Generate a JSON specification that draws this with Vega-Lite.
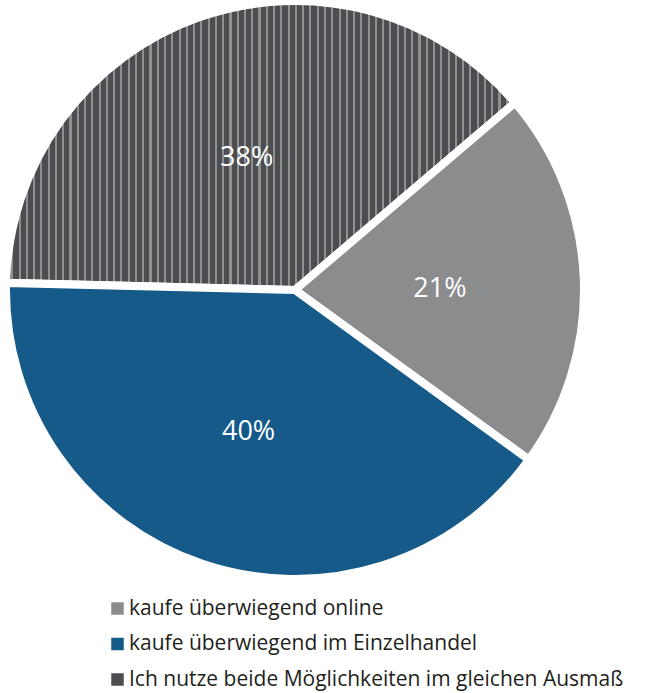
{
  "$schema": "https://vega.github.io/schema/vega-lite/v6.json",
  "width": 590,
  "height": 580,
  "autosize": {"type": "none"},
  "padding": {"left": 0, "top": 0, "right": 56, "bottom": 113},
  "background": "white",
  "config": {"view": {"stroke": null}},
  "data": {
    "values": [
      {"cat": "Ich nutze beide Möglichkeiten im gleichen Ausmaß", "value": 38, "ord": 1, "label": "38%"},
      {"cat": "kaufe überwiegend online", "value": 21, "ord": 2, "label": "21%"},
      {"cat": "kaufe überwiegend im Einzelhandel", "value": 40, "ord": 3, "label": "40%"}
    ]
  },
  "encoding": {
    "theta": {"field": "value", "type": "quantitative", "stack": true, "scale": {"range": [-1.546, 4.737]}},
    "order": {"field": "ord", "type": "quantitative"}
  },
  "layer": [
    {
      "mark": {"type": "arc", "outerRadius": 289, "stroke": "white", "strokeWidth": 8},
      "encoding": {
        "color": {
          "field": "cat",
          "type": "nominal",
          "scale": {
            "domain": ["kaufe überwiegend online", "kaufe überwiegend im Einzelhandel", "Ich nutze beide Möglichkeiten im gleichen Ausmaß"],
            "range": ["#8b8c8e", "#165a8a", "#4c4d51"]
          },
          "condition": {
            "test": "datum.cat === 'Ich nutze beide Möglichkeiten im gleichen Ausmaß'",
            "value": {
              "gradient": "linear", "x1": 0, "y1": 0, "x2": 1, "y2": 0,
              "stops": [
{"offset":0,"color":"#4c4d51"},{"offset":0.0102,"color":"#4c4d51"},{"offset":0.0102,"color":"#8e8f91"},{"offset":0.0143,"color":"#8e8f91"},
{"offset":0.0143,"color":"#4c4d51"},{"offset":0.0245,"color":"#4c4d51"},{"offset":0.0245,"color":"#8e8f91"},{"offset":0.0286,"color":"#8e8f91"},
{"offset":0.0286,"color":"#4c4d51"},{"offset":0.0388,"color":"#4c4d51"},{"offset":0.0388,"color":"#8e8f91"},{"offset":0.0429,"color":"#8e8f91"},
{"offset":0.0429,"color":"#4c4d51"},{"offset":0.0531,"color":"#4c4d51"},{"offset":0.0531,"color":"#8e8f91"},{"offset":0.0571,"color":"#8e8f91"},
{"offset":0.0571,"color":"#4c4d51"},{"offset":0.0673,"color":"#4c4d51"},{"offset":0.0673,"color":"#8e8f91"},{"offset":0.0714,"color":"#8e8f91"},
{"offset":0.0714,"color":"#4c4d51"},{"offset":0.0816,"color":"#4c4d51"},{"offset":0.0816,"color":"#8e8f91"},{"offset":0.0857,"color":"#8e8f91"},
{"offset":0.0857,"color":"#4c4d51"},{"offset":0.0959,"color":"#4c4d51"},{"offset":0.0959,"color":"#8e8f91"},{"offset":0.1,"color":"#8e8f91"},
{"offset":0.1,"color":"#4c4d51"},{"offset":0.1102,"color":"#4c4d51"},{"offset":0.1102,"color":"#8e8f91"},{"offset":0.1143,"color":"#8e8f91"},
{"offset":0.1143,"color":"#4c4d51"},{"offset":0.1245,"color":"#4c4d51"},{"offset":0.1245,"color":"#8e8f91"},{"offset":0.1286,"color":"#8e8f91"},
{"offset":0.1286,"color":"#4c4d51"},{"offset":0.1388,"color":"#4c4d51"},{"offset":0.1388,"color":"#8e8f91"},{"offset":0.1429,"color":"#8e8f91"},
{"offset":0.1429,"color":"#4c4d51"},{"offset":0.1531,"color":"#4c4d51"},{"offset":0.1531,"color":"#8e8f91"},{"offset":0.1571,"color":"#8e8f91"},
{"offset":0.1571,"color":"#4c4d51"},{"offset":0.1673,"color":"#4c4d51"},{"offset":0.1673,"color":"#8e8f91"},{"offset":0.1714,"color":"#8e8f91"},
{"offset":0.1714,"color":"#4c4d51"},{"offset":0.1816,"color":"#4c4d51"},{"offset":0.1816,"color":"#8e8f91"},{"offset":0.1857,"color":"#8e8f91"},
{"offset":0.1857,"color":"#4c4d51"},{"offset":0.1959,"color":"#4c4d51"},{"offset":0.1959,"color":"#8e8f91"},{"offset":0.2,"color":"#8e8f91"},
{"offset":0.2,"color":"#4c4d51"},{"offset":0.2102,"color":"#4c4d51"},{"offset":0.2102,"color":"#8e8f91"},{"offset":0.2143,"color":"#8e8f91"},
{"offset":0.2143,"color":"#4c4d51"},{"offset":0.2245,"color":"#4c4d51"},{"offset":0.2245,"color":"#8e8f91"},{"offset":0.2286,"color":"#8e8f91"},
{"offset":0.2286,"color":"#4c4d51"},{"offset":0.2388,"color":"#4c4d51"},{"offset":0.2388,"color":"#8e8f91"},{"offset":0.2429,"color":"#8e8f91"},
{"offset":0.2429,"color":"#4c4d51"},{"offset":0.2531,"color":"#4c4d51"},{"offset":0.2531,"color":"#8e8f91"},{"offset":0.2571,"color":"#8e8f91"},
{"offset":0.2571,"color":"#4c4d51"},{"offset":0.2673,"color":"#4c4d51"},{"offset":0.2673,"color":"#8e8f91"},{"offset":0.2714,"color":"#8e8f91"},
{"offset":0.2714,"color":"#4c4d51"},{"offset":0.2816,"color":"#4c4d51"},{"offset":0.2816,"color":"#8e8f91"},{"offset":0.2857,"color":"#8e8f91"},
{"offset":0.2857,"color":"#4c4d51"},{"offset":0.2959,"color":"#4c4d51"},{"offset":0.2959,"color":"#8e8f91"},{"offset":0.3,"color":"#8e8f91"},
{"offset":0.3,"color":"#4c4d51"},{"offset":0.3102,"color":"#4c4d51"},{"offset":0.3102,"color":"#8e8f91"},{"offset":0.3143,"color":"#8e8f91"},
{"offset":0.3143,"color":"#4c4d51"},{"offset":0.3245,"color":"#4c4d51"},{"offset":0.3245,"color":"#8e8f91"},{"offset":0.3286,"color":"#8e8f91"},
{"offset":0.3286,"color":"#4c4d51"},{"offset":0.3388,"color":"#4c4d51"},{"offset":0.3388,"color":"#8e8f91"},{"offset":0.3429,"color":"#8e8f91"},
{"offset":0.3429,"color":"#4c4d51"},{"offset":0.3531,"color":"#4c4d51"},{"offset":0.3531,"color":"#8e8f91"},{"offset":0.3571,"color":"#8e8f91"},
{"offset":0.3571,"color":"#4c4d51"},{"offset":0.3673,"color":"#4c4d51"},{"offset":0.3673,"color":"#8e8f91"},{"offset":0.3714,"color":"#8e8f91"},
{"offset":0.3714,"color":"#4c4d51"},{"offset":0.3816,"color":"#4c4d51"},{"offset":0.3816,"color":"#8e8f91"},{"offset":0.3857,"color":"#8e8f91"},
{"offset":0.3857,"color":"#4c4d51"},{"offset":0.3959,"color":"#4c4d51"},{"offset":0.3959,"color":"#8e8f91"},{"offset":0.4,"color":"#8e8f91"},
{"offset":0.4,"color":"#4c4d51"},{"offset":0.4102,"color":"#4c4d51"},{"offset":0.4102,"color":"#8e8f91"},{"offset":0.4143,"color":"#8e8f91"},
{"offset":0.4143,"color":"#4c4d51"},{"offset":0.4245,"color":"#4c4d51"},{"offset":0.4245,"color":"#8e8f91"},{"offset":0.4286,"color":"#8e8f91"},
{"offset":0.4286,"color":"#4c4d51"},{"offset":0.4388,"color":"#4c4d51"},{"offset":0.4388,"color":"#8e8f91"},{"offset":0.4429,"color":"#8e8f91"},
{"offset":0.4429,"color":"#4c4d51"},{"offset":0.4531,"color":"#4c4d51"},{"offset":0.4531,"color":"#8e8f91"},{"offset":0.4571,"color":"#8e8f91"},
{"offset":0.4571,"color":"#4c4d51"},{"offset":0.4673,"color":"#4c4d51"},{"offset":0.4673,"color":"#8e8f91"},{"offset":0.4714,"color":"#8e8f91"},
{"offset":0.4714,"color":"#4c4d51"},{"offset":0.4816,"color":"#4c4d51"},{"offset":0.4816,"color":"#8e8f91"},{"offset":0.4857,"color":"#8e8f91"},
{"offset":0.4857,"color":"#4c4d51"},{"offset":0.4959,"color":"#4c4d51"},{"offset":0.4959,"color":"#8e8f91"},{"offset":0.5,"color":"#8e8f91"},
{"offset":0.5,"color":"#4c4d51"},{"offset":0.5102,"color":"#4c4d51"},{"offset":0.5102,"color":"#8e8f91"},{"offset":0.5143,"color":"#8e8f91"},
{"offset":0.5143,"color":"#4c4d51"},{"offset":0.5245,"color":"#4c4d51"},{"offset":0.5245,"color":"#8e8f91"},{"offset":0.5286,"color":"#8e8f91"},
{"offset":0.5286,"color":"#4c4d51"},{"offset":0.5388,"color":"#4c4d51"},{"offset":0.5388,"color":"#8e8f91"},{"offset":0.5429,"color":"#8e8f91"},
{"offset":0.5429,"color":"#4c4d51"},{"offset":0.5531,"color":"#4c4d51"},{"offset":0.5531,"color":"#8e8f91"},{"offset":0.5571,"color":"#8e8f91"},
{"offset":0.5571,"color":"#4c4d51"},{"offset":0.5673,"color":"#4c4d51"},{"offset":0.5673,"color":"#8e8f91"},{"offset":0.5714,"color":"#8e8f91"},
{"offset":0.5714,"color":"#4c4d51"},{"offset":0.5816,"color":"#4c4d51"},{"offset":0.5816,"color":"#8e8f91"},{"offset":0.5857,"color":"#8e8f91"},
{"offset":0.5857,"color":"#4c4d51"},{"offset":0.5959,"color":"#4c4d51"},{"offset":0.5959,"color":"#8e8f91"},{"offset":0.6,"color":"#8e8f91"},
{"offset":0.6,"color":"#4c4d51"},{"offset":0.6102,"color":"#4c4d51"},{"offset":0.6102,"color":"#8e8f91"},{"offset":0.6143,"color":"#8e8f91"},
{"offset":0.6143,"color":"#4c4d51"},{"offset":0.6245,"color":"#4c4d51"},{"offset":0.6245,"color":"#8e8f91"},{"offset":0.6286,"color":"#8e8f91"},
{"offset":0.6286,"color":"#4c4d51"},{"offset":0.6388,"color":"#4c4d51"},{"offset":0.6388,"color":"#8e8f91"},{"offset":0.6429,"color":"#8e8f91"},
{"offset":0.6429,"color":"#4c4d51"},{"offset":0.6531,"color":"#4c4d51"},{"offset":0.6531,"color":"#8e8f91"},{"offset":0.6571,"color":"#8e8f91"},
{"offset":0.6571,"color":"#4c4d51"},{"offset":0.6673,"color":"#4c4d51"},{"offset":0.6673,"color":"#8e8f91"},{"offset":0.6714,"color":"#8e8f91"},
{"offset":0.6714,"color":"#4c4d51"},{"offset":0.6816,"color":"#4c4d51"},{"offset":0.6816,"color":"#8e8f91"},{"offset":0.6857,"color":"#8e8f91"},
{"offset":0.6857,"color":"#4c4d51"},{"offset":0.6959,"color":"#4c4d51"},{"offset":0.6959,"color":"#8e8f91"},{"offset":0.7,"color":"#8e8f91"},
{"offset":0.7,"color":"#4c4d51"},{"offset":0.7102,"color":"#4c4d51"},{"offset":0.7102,"color":"#8e8f91"},{"offset":0.7143,"color":"#8e8f91"},
{"offset":0.7143,"color":"#4c4d51"},{"offset":0.7245,"color":"#4c4d51"},{"offset":0.7245,"color":"#8e8f91"},{"offset":0.7286,"color":"#8e8f91"},
{"offset":0.7286,"color":"#4c4d51"},{"offset":0.7388,"color":"#4c4d51"},{"offset":0.7388,"color":"#8e8f91"},{"offset":0.7429,"color":"#8e8f91"},
{"offset":0.7429,"color":"#4c4d51"},{"offset":0.7531,"color":"#4c4d51"},{"offset":0.7531,"color":"#8e8f91"},{"offset":0.7571,"color":"#8e8f91"},
{"offset":0.7571,"color":"#4c4d51"},{"offset":0.7673,"color":"#4c4d51"},{"offset":0.7673,"color":"#8e8f91"},{"offset":0.7714,"color":"#8e8f91"},
{"offset":0.7714,"color":"#4c4d51"},{"offset":0.7816,"color":"#4c4d51"},{"offset":0.7816,"color":"#8e8f91"},{"offset":0.7857,"color":"#8e8f91"},
{"offset":0.7857,"color":"#4c4d51"},{"offset":0.7959,"color":"#4c4d51"},{"offset":0.7959,"color":"#8e8f91"},{"offset":0.8,"color":"#8e8f91"},
{"offset":0.8,"color":"#4c4d51"},{"offset":0.8102,"color":"#4c4d51"},{"offset":0.8102,"color":"#8e8f91"},{"offset":0.8143,"color":"#8e8f91"},
{"offset":0.8143,"color":"#4c4d51"},{"offset":0.8245,"color":"#4c4d51"},{"offset":0.8245,"color":"#8e8f91"},{"offset":0.8286,"color":"#8e8f91"},
{"offset":0.8286,"color":"#4c4d51"},{"offset":0.8388,"color":"#4c4d51"},{"offset":0.8388,"color":"#8e8f91"},{"offset":0.8429,"color":"#8e8f91"},
{"offset":0.8429,"color":"#4c4d51"},{"offset":0.8531,"color":"#4c4d51"},{"offset":0.8531,"color":"#8e8f91"},{"offset":0.8571,"color":"#8e8f91"},
{"offset":0.8571,"color":"#4c4d51"},{"offset":0.8673,"color":"#4c4d51"},{"offset":0.8673,"color":"#8e8f91"},{"offset":0.8714,"color":"#8e8f91"},
{"offset":0.8714,"color":"#4c4d51"},{"offset":0.8816,"color":"#4c4d51"},{"offset":0.8816,"color":"#8e8f91"},{"offset":0.8857,"color":"#8e8f91"},
{"offset":0.8857,"color":"#4c4d51"},{"offset":0.8959,"color":"#4c4d51"},{"offset":0.8959,"color":"#8e8f91"},{"offset":0.9,"color":"#8e8f91"},
{"offset":0.9,"color":"#4c4d51"},{"offset":0.9102,"color":"#4c4d51"},{"offset":0.9102,"color":"#8e8f91"},{"offset":0.9143,"color":"#8e8f91"},
{"offset":0.9143,"color":"#4c4d51"},{"offset":0.9245,"color":"#4c4d51"},{"offset":0.9245,"color":"#8e8f91"},{"offset":0.9286,"color":"#8e8f91"},
{"offset":0.9286,"color":"#4c4d51"},{"offset":0.9388,"color":"#4c4d51"},{"offset":0.9388,"color":"#8e8f91"},{"offset":0.9429,"color":"#8e8f91"},
{"offset":0.9429,"color":"#4c4d51"},{"offset":0.9531,"color":"#4c4d51"},{"offset":0.9531,"color":"#8e8f91"},{"offset":0.9571,"color":"#8e8f91"},
{"offset":0.9571,"color":"#4c4d51"},{"offset":0.9673,"color":"#4c4d51"},{"offset":0.9673,"color":"#8e8f91"},{"offset":0.9714,"color":"#8e8f91"},
{"offset":0.9714,"color":"#4c4d51"},{"offset":0.9816,"color":"#4c4d51"},{"offset":0.9816,"color":"#8e8f91"},{"offset":0.9857,"color":"#8e8f91"},
{"offset":0.9857,"color":"#4c4d51"},{"offset":0.9959,"color":"#4c4d51"},{"offset":0.9959,"color":"#8e8f91"},{"offset":1,"color":"#8e8f91"}
              ]
            }
          },
          "legend": {
            "orient": "none",
            "legendX": 107,
            "legendY": 598,
            "title": null,
            "padding": 0,
            "symbolType": "square",
            "symbolSize": 156,
            "symbolStrokeColor": "transparent",
            "symbolStrokeWidth": 0,
            "labelFont": "Open Sans",
            "labelFontSize": 21,
            "labelColor": "#231f20",
            "labelOffset": 1,
            "labelLimit": 600,
            "rowPadding": 13.5,
            "encode": {
              "symbols": {
                "update": {
                  "fill": [
                    {
                      "test": "datum.value === 'Ich nutze beide Möglichkeiten im gleichen Ausmaß'",
                      "value": {
                        "gradient": "linear", "x1": 0, "y1": 0, "x2": 1, "y2": 0,
                        "stops": [
                          {"offset": 0, "color": "#4c4d51"},
                          {"offset": 0.42, "color": "#4c4d51"},
                          {"offset": 0.42, "color": "#a6a7a9"},
                          {"offset": 0.56, "color": "#a6a7a9"},
                          {"offset": 0.56, "color": "#4c4d51"},
                          {"offset": 1, "color": "#4c4d51"}
                        ]
                      }
                    },
                    {"scale": "color", "field": "value"}
                  ],
                  "opacity": {"value": 1}
                }
              }
            }
          }
        }
      }
    },
    {
      "mark": {"type": "text", "radius": 145, "fontSize": 27, "font": "Open Sans", "fill": "white", "dy": 5},
      "encoding": {
        "text": {"field": "label", "type": "nominal"}
      }
    }
  ]
}
